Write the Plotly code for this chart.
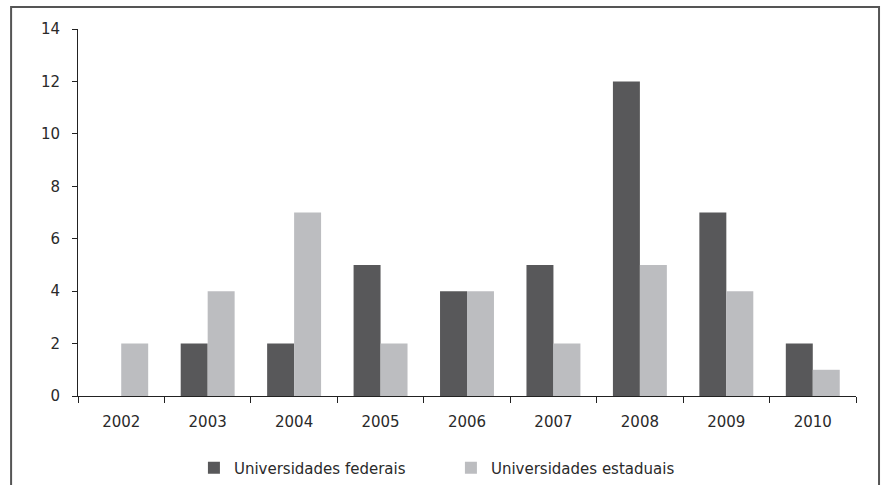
import plotly.graph_objects as go

# data
anos = ["2002", "2003", "2004", "2005", "2006", "2007", "2008", "2009", "2010"]
federais = [0, 2, 2, 5, 4, 5, 12, 7, 2]
estaduais = [2, 4, 7, 2, 4, 2, 5, 4, 1]

fig = go.Figure()
fig.add_trace(go.Bar(x=anos, y=federais, name="Universidades federais",
                     marker=dict(color="#58585a", line=dict(width=0))))
fig.add_trace(go.Bar(x=anos, y=estaduais, name="Universidades estaduais",
                     marker=dict(color="#bcbdc0", line=dict(width=0))))

# outer frame around the whole graphic
fig.add_shape(type="rect", xref="paper", yref="paper",
              x0=-0.086, x1=1.0296, y0=-0.4, y1=1.06,
              line=dict(color="#555555", width=2))

fig.update_layout(
    width=881, height=485,
    margin=dict(l=78, r=25, t=29, b=89, autoexpand=False),
    plot_bgcolor="white", paper_bgcolor="white",
    barmode="group", bargap=0.376, bargroupgap=0,
    font=dict(family="DejaVu Sans, sans-serif", size=15, color="#2a2a2a"),
    showlegend=True,
    legend=dict(orientation="h", x=0.149, xanchor="left",
                yref="container", y=0.035, yanchor="middle",
                entrywidth=212, entrywidthmode="pixels", itemwidth=30,
                font=dict(size=15), traceorder="normal"),
    xaxis=dict(showline=True, linecolor="#222222", linewidth=1,
               ticks="outside", tickson="boundaries", ticklen=6, tickcolor="#222222",
               ticklabelstandoff=12, showgrid=False),
    yaxis=dict(range=[0, 14], dtick=2, showline=True, linecolor="#222222", linewidth=1,
               ticks="outside", ticklen=5, tickcolor="#222222", showgrid=False,
               ticklabelstandoff=9, zeroline=False),
)

# page has a default body margin; drop it so the figure sits at the window corner
fig.write_html("out.html", config={"displayModeBar": False},
               post_script="document.body.style.margin='0';")
